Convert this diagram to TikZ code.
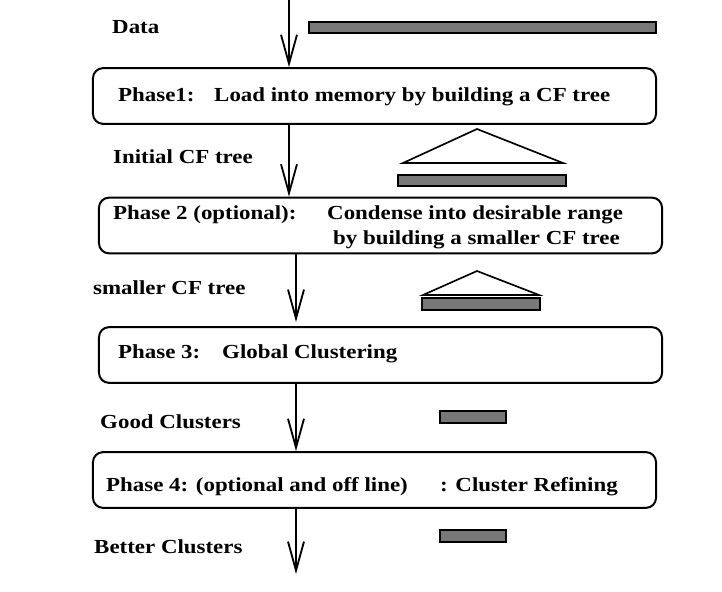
\documentclass[tikz,border=0pt]{standalone}
\usepackage{fontspec}
\setmainfont{Liberation Serif}[FakeStretch=1.15]
\usetikzlibrary{arrows.meta}
\begin{document}
\begin{tikzpicture}[x=0.03cm,y=-0.03cm,
  box/.style={draw, rounded corners=0.3cm, line width=0.06cm, inner sep=0pt, minimum width=16.89cm, minimum height=1.67cm},
  bar/.style={draw, fill=black!53, line width=0.05cm},
  tri/.style={draw, line width=0.05cm, line join=miter},
  arr/.style={line width=0.055cm, -{Straight Barb[length=0.87cm, width=0.48cm, line width=0.055cm]}},
  lbl/.style={anchor=base west, inner sep=0pt, font=\fontsize{17}{20}\selectfont\bfseries}]
\useasboundingbox (0,0) rectangle (722,592);
% boxes
\node[box] (b1) at (374.5,96) {};
\node[box] (b2) at (380.5,225.5) {};
\node[box] (b3) at (380.5,355) {};
\node[box] (b4) at (374.5,480) {};
% texts in boxes
\node[lbl] (t1a) at (118,102) {Phase1:};
\node[lbl] (t1b) at (214,102) {Load into memory by building a CF tree};
\node[lbl] (t2a) at (113,220) {Phase 2 (optional):};
\node[lbl] (t2b) at (327,220) {Condense into desirable range};
\node[lbl] (t2c) at (333,244) {by building a smaller CF tree};
\node[lbl] (t3a) at (118,358) {Phase 3:};
\node[lbl] (t3b) at (222,358) {Global Clustering};
\node[lbl] (t4a) at (106,491) {Phase 4: (optional and off line)};
\node[lbl] (t4b) at (440,491) {: Cluster Refining};
% side labels
\node[lbl] (l1) at (112,34) {Data};
\node[lbl] (l2) at (113,164) {Initial CF tree};
\node[lbl] (l3) at (93,294) {smaller CF tree};
\node[lbl] (l4) at (100,428) {Good Clusters};
\node[lbl] (l5) at (94,553) {Better Clusters};
% arrows
\coordinate (a0) at (289,0);
\coordinate (a3) at (296,322);
\coordinate (a5) at (296,574);
\draw[arr] (a0) -- (a0 |- b1.north);
\draw[arr] (b1.south -| 289,0) -- (b2.north -| 289,0);
\draw[arr] (b2.south -| a3) -- (a3);
\draw[arr] (b3.south -| a3) -- (b4.north -| a3);
\draw[arr] (b4.south -| a5) -- (a5);
% bars and trees
\draw[bar] (309,22) rectangle (656,33);
\draw[tri] (477,129) -- (563,163) -- (403,163) -- cycle;
\draw[bar] (398,175) rectangle (566,186);
\draw[tri] (477,271) -- (539,295) -- (423,295) -- cycle;
\draw[bar] (422,298) rectangle (540,310);
\draw[bar] (440,411) rectangle (506,423);
\draw[bar] (440,530) rectangle (506,542);
\end{tikzpicture}
\end{document}
